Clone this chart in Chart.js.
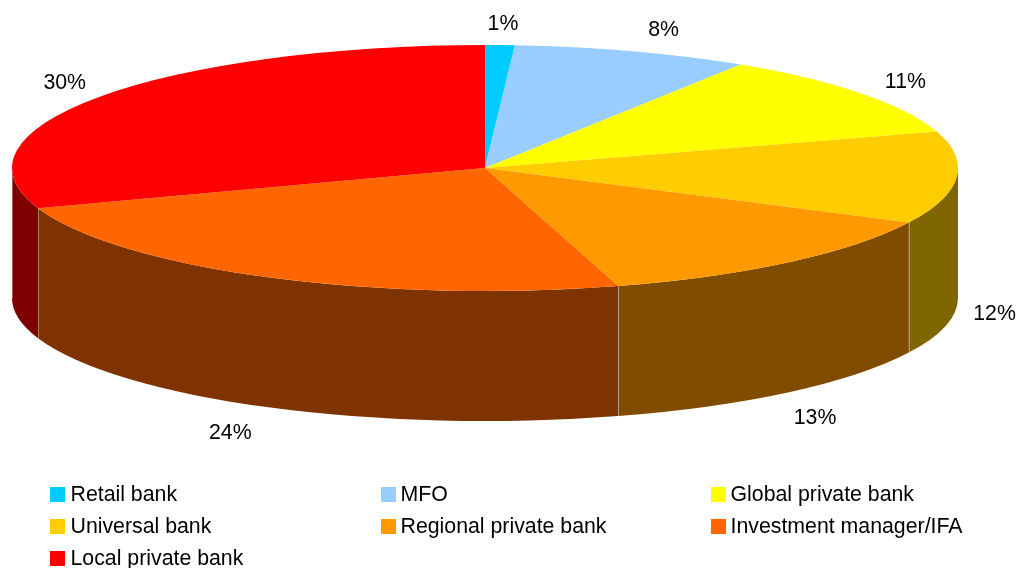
<!DOCTYPE html>
<html>
<head>
<meta charset="utf-8">
<style>
  html, body { margin: 0; padding: 0; background: #fff; }
  #wrap { position: relative; width: 1019px; height: 568px; overflow: hidden; }
</style>
<script src="https://cdn.jsdelivr.net/npm/chart.js@4"></script>
</head>
<body>
<div id="wrap"><canvas id="pie" width="1019" height="568"></canvas></div>
<script>
const categories = ['Retail bank', 'MFO', 'Global private bank', 'Universal bank',
  'Regional private bank', 'Investment manager/IFA', 'Local private bank'];
const shares = [1, 8, 11, 12, 13, 24, 30];
const topColors = ['#00ccff', '#99ccff', '#ffff00', '#ffcc00', '#ff9900', '#ff6600', '#ff0000'];
const wallColors = ['#00667f', '#4c667f', '#7f7f00', '#7f6600', '#7f4c00', '#7f3300', '#7f0000'];

// Pie geometry on the page: centre, horizontal radius, vertical radius, wall height.
const CX = 485, CY = 168, RX = 473, RY = 123, DEPTH = 130;

// Label anchor, offset from the rim point at each slice's middle angle.
const labelOffsets = [[3, -21], [31, -21], [44, -11], [38, 136], [26, 156], [-38, 156], [-35, -14]];

const FONT = '21.3px "Liberation Sans", Arial, sans-serif';
const swatchCols = [50, 381, 711];
const textCols = [70.5, 400.5, 730.5];
const legendRows = [494, 526, 558];

function rimPoint(angle) {
  return { x: CX + RX * Math.cos(angle), y: CY + RY * Math.sin(angle) };
}

const flattenPie = {
  id: 'flattenPie',
  // Side wall of the disc: only the front half of the rim is visible.
  beforeDatasetsDraw(chart) {
    const ctx = chart.ctx;
    const arcs = chart.getDatasetMeta(0).data;
    const seams = [0];
    arcs.forEach((arc, i) => {
      const from = Math.max(arc.startAngle, 0), to = Math.min(arc.endAngle, Math.PI);
      if (to <= from) return;
      ctx.beginPath();
      ctx.ellipse(CX, CY, RX, RY, 0, from, to, false);
      ctx.ellipse(CX, CY + DEPTH, RX, RY, 0, to, from, true);
      ctx.closePath();
      ctx.fillStyle = wallColors[i];
      ctx.fill();
      seams.push(to);
    });
    // Pale hairlines where neighbouring wall panels meet.
    ctx.save();
    ctx.strokeStyle = 'rgba(255,255,255,0.35)';
    ctx.lineWidth = 1;
    seams.forEach(angle => {
      const p = rimPoint(angle);
      const x = Math.round(p.x) + 0.5;
      ctx.beginPath();
      ctx.moveTo(x, p.y);
      ctx.lineTo(x, p.y + DEPTH);
      ctx.stroke();
    });
    ctx.restore();
    // Tilt the top face by widening the circular pie into an ellipse.
    ctx.save();
    ctx.translate(CX, 0);
    ctx.scale(RX / arcs[0].outerRadius, 1);
    ctx.translate(-arcs[0].x, 0);
  },
  afterDatasetsDraw(chart) {
    const ctx = chart.ctx;
    ctx.restore();
    const arcs = chart.getDatasetMeta(0).data;
    ctx.save();
    ctx.font = FONT;
    ctx.fillStyle = '#000';
    ctx.textAlign = 'center';
    ctx.textBaseline = 'middle';
    arcs.forEach((arc, i) => {
      const p = rimPoint((arc.startAngle + arc.endAngle) / 2);
      ctx.fillText(shares[i] + '%', p.x + labelOffsets[i][0], p.y + labelOffsets[i][1]);
    });
    ctx.textAlign = 'left';
    categories.forEach((name, i) => {
      const col = i % 3, y = legendRows[Math.floor(i / 3)];
      ctx.fillStyle = topColors[i];
      ctx.fillRect(swatchCols[col], y - 7, 15, 15);
      ctx.fillStyle = '#000';
      ctx.fillText(name, textCols[col], y + 1);
    });
    ctx.restore();
  }
};

new Chart(document.getElementById('pie'), {
  type: 'pie',
  data: {
    labels: categories,
    datasets: [{ data: shares, backgroundColor: topColors, borderWidth: 0, hoverOffset: 0 }]
  },
  options: {
    responsive: false,
    animation: false,
    layout: { padding: { top: CY - RY, bottom: 568 - CY - RY, left: CX - RX, right: 1019 - CX - RX } },
    plugins: { legend: { display: false }, tooltip: { enabled: false } }
  },
  plugins: [flattenPie]
});
</script>
</body>
</html>
